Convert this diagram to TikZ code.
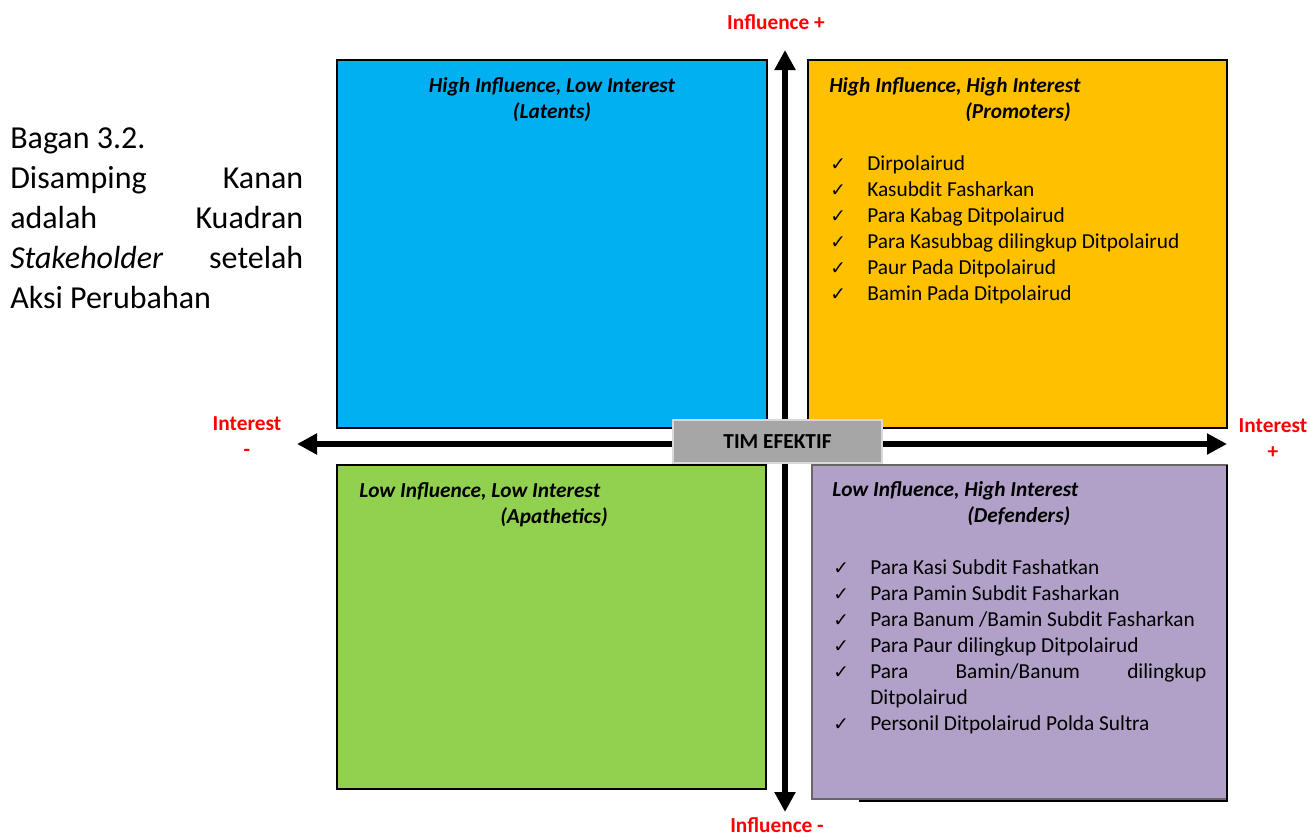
\documentclass[tikz,border=0pt]{standalone}
\usepackage{fontspec}
\setmainfont{Carlito}
\newfontfamily\ckfont{DejaVu Sans}
\usetikzlibrary{arrows.meta}
\definecolor{latent-blue}{HTML}{00B0F0}
\definecolor{promoter-gold}{HTML}{FFC000}
\definecolor{apathetic-green}{HTML}{92D050}
\definecolor{defender-purple}{HTML}{B1A0C7}
\definecolor{center-gray}{HTML}{A6A6A6}
\definecolor{axis-red}{HTML}{FF0000}
\newcommand{\ckline}[1]{\makebox[27.75pt][l]{\ckfont\fontsize{14}{14}\selectfont ✓}#1}
\newcommand{\natsp}{\spaceskip=0pt\xspaceskip=0pt\relax}

\begin{document}
\begin{tikzpicture}[x=0.75pt, y=-0.75pt,
        every node/.style={inner sep=0pt, execute at begin node=\natsp},
        quadbox/.style={draw=black, line width=1.2pt},
        axis/.style={{Triangle[length=15pt,width=15pt]}-{Triangle[length=15pt,width=15pt]}, line width=4.8pt},
        headtext/.style={font=\fontsize{16}{19.5}\selectfont\bfseries\itshape},
        listtext/.style={font=\fontsize{16}{19.5}\selectfont, align=left},
        axislabel/.style={font=\fontsize{16}{19.5}\selectfont\bfseries, text=axis-red, align=center, anchor=north}]
      \useasboundingbox (0,0) rectangle (1310,836);
      % quadrants
      \draw[quadbox, fill=latent-blue] (337,60) rectangle (767,428);
      \draw[quadbox, fill=promoter-gold] (808,60) rectangle (1227,428);
      \draw[quadbox, fill=apathetic-green] (337,465) rectangle (766,789);
      \draw[draw=black!60, line width=0.8pt, fill=defender-purple] (812,465) rectangle (1227,799);
      \draw[line width=1.2pt] (859,801) -- (1227,801) -- (1227,465);
      % axes
      \coordinate (inf plus) at (785,50);
      \coordinate (inf minus) at (785,812);
      \coordinate (int minus) at (297,444);
      \coordinate (int plus) at (1227,444);
      \draw[axis] (inf minus) -- (inf plus);
      \draw[axis] (int minus) -- (int plus);
      \node[fill=center-gray, draw=black!15, line width=1.2pt,
            minimum width=156.75pt, minimum height=32.25pt,
            font=\fontsize{16}{18}\selectfont\bfseries]
            (tim) at (777.5,441.5) {TIM EFEKTIF};
      \node[axislabel] (infplus lbl) at (776,10.8) {\strut Influence +};
      \node[axislabel] (infminus lbl) at (777,813.8) {\strut Influence -};
      \node[axislabel] (intminus lbl) at (247,411.8) {\strut Interest\\-};
      \node[axislabel] (intplus lbl) at (1273,413.8) {\strut Interest\\+};
      % caption on the left
      \node[anchor=north west, text width=219.75pt, align=left,
            font=\fontsize{24}{30}\selectfont]
            (caption) at (10,120)
            {\strut Bagan 3.2.\\
             Disamping\hfill Kanan\\
             adalah\hfill Kuadran\\
             \textit{Stakeholder}\hfill setelah\\
             Aksi Perubahan};
      % headings
      \node[headtext, anchor=north, align=center] (latents) at (552,73.8)
            {\strut High Influence, Low Interest\\(Latents)};
      \node[headtext, anchor=north west, align=left] (promoters) at (829,73.8)
            {\strut High Influence, High Interest\\\hspace*{102pt}(Promoters)};
      \node[headtext, anchor=north west, align=left] (apathetics) at (359,478.8)
            {\strut Low Influence, Low Interest\\\hspace*{105.75pt}(Apathetics)};
      \node[headtext, anchor=north west, align=left] (defenders) at (832,477.8)
            {\strut Low Influence, High Interest\\\hspace*{101.25pt}(Defenders)};
      % member lists
      \node[listtext, anchor=north west, text width=285pt] (promoter list) at (830,151.8)
            {\strut\ckline{Dirpolairud}\\
             \ckline{Kasubdit Fasharkan}\\
             \ckline{Para Kabag Ditpolairud}\\
             \ckline{Para Kasubbag dilingkup Ditpolairud}\\
             \ckline{Paur Pada Ditpolairud}\\
             \ckline{Bamin Pada Ditpolairud}};
      \node[listtext, anchor=north west, text width=279.75pt] (defender list) at (833,555.8)
            {\strut\ckline{Para Kasi Subdit Fashatkan}\\
             \ckline{Para Pamin Subdit Fasharkan}\\
             \ckline{Para Banum /Bamin Subdit Fasharkan}\\
             \ckline{Para Paur dilingkup Ditpolairud}\\
             \ckline{Para\hfill Bamin/Banum\hfill dilingkup}\\
             \hspace*{27.75pt}Ditpolairud\\
             \ckline{Personil Ditpolairud Polda Sultra}};
    \end{tikzpicture}
\end{document}
